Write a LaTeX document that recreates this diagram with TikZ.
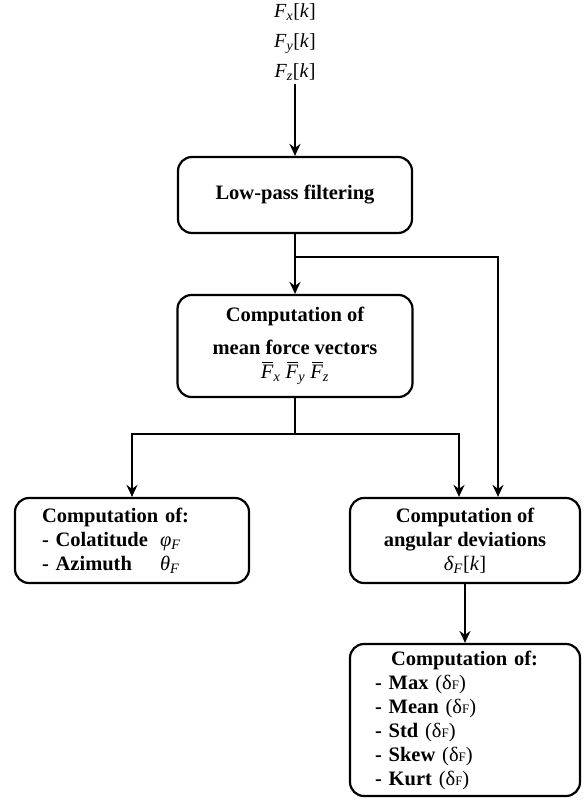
\documentclass[tikz,border=0pt]{standalone}
\usepackage{fontspec}
\setmainfont{Liberation Serif}
\usetikzlibrary{arrows.meta}
\newcommand{\dF}{{\mdseries(δ{\fontsize{13}{13}\selectfont F})}}
\newcommand{\ivar}[2]{{\mdseries\textit{#1}\textsubscript{\textit{#2}}}}
\newcommand{\barF}[1]{{\mdseries\makebox[0pt][l]{\hspace*{1.5pt}\rule[16pt]{11pt}{0.9pt}}\textit{F}\textsubscript{\textit{#1}}}}
\begin{document}
\begin{tikzpicture}[x=1pt, y={(0,-1pt)},
    box/.style={draw, line width=2.2pt, rounded corners=14pt, align=center,
        font=\fontsize{20.5}{24}\selectfont\bfseries},
    arr/.style={line width=2.2pt, -{Stealth[length=12pt,width=11pt,inset=4pt]}},
    plain/.style={line width=2.2pt}]
    \useasboundingbox (0,0) rectangle (587,802);

    % Input signals
    \node[align=center, font=\fontsize{20}{30}\selectfont] (inputs) at (295,42)
        {\ivar{F}{x}[\textit{k}]\\\ivar{F}{y}[\textit{k}]\\\ivar{F}{z}[\textit{k}]};

    % Processing boxes
    \node[box, minimum width=234pt, minimum height=76pt] (lowpass) at (295,195)
        {Low-pass filtering};
    \node[box, minimum width=235pt, minimum height=102pt] (mean) at (295,346)
        {Computation of\\[9pt]mean force vectors\\\barF{x}\ \barF{y}\ \barF{z}};

    % Output boxes
    \node[box, minimum width=234pt, minimum height=85pt, text width=180pt,
        align=left, inner xsep=27pt] (colat) at (132,540.5)
        {Computation of:\\\makebox[118pt][l]{- Colatitude}\ivar{φ}{F}\\\makebox[118pt][l]{- Azimuth}\ivar{θ}{F}};
    \node[box, minimum width=230pt, minimum height=85pt] (angdev) at (465,540.5)
        {Computation of\\angular deviations\\\ivar{δ}{F}{\mdseries[\textit{k}]}};
    \node[box, minimum width=230pt, minimum height=152pt, text width=180pt,
        align=left, inner xsep=25pt] (stats) at (465,720)
        {\hspace*{16pt}Computation of:\\- Max \dF\\- Mean \dF\\- Std \dF\\- Skew \dF\\- Kurt \dF};

    % Connectors
    \coordinate (split) at (295,257);
    \coordinate (fork) at (295,434);
    \draw[arr] (inputs) -- (lowpass);
    \draw[arr] (lowpass) -- (mean);
    \draw[arr] (split) -| ([xshift=33pt]angdev.north);
    \draw[plain] (mean) -- (fork);
    \draw[arr] (fork) -| (colat.north);
    \draw[arr] (fork) -| ([xshift=-6pt]angdev.north);
    \draw[arr] (angdev) -- (stats);
\end{tikzpicture}
\end{document}
